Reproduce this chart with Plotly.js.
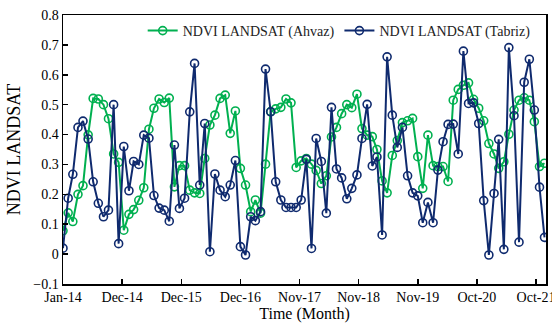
<!DOCTYPE html>
<html>
<head>
<meta charset="utf-8">
<script src="https://cdn.plot.ly/plotly-3.0.1.min.js"></script>
<style>html,body{margin:0;padding:0;background:#fff;}#chart{width:552px;height:327px;}</style>
</head>
<body>
<div id="chart"></div>
<script>
// Monthly observations Jan-2014 .. Dec-2021
const ndviAhvaz = [
  0.078,0.138,0.109,0.200,0.229,0.399,0.521,0.519,0.500,0.453,0.335,0.307,
  0.080,0.133,0.149,0.180,0.222,0.418,0.488,0.519,0.507,0.522,0.225,0.296,
  0.296,0.214,0.205,0.203,0.320,0.432,0.465,0.521,0.532,0.404,0.479,0.287,
  0.231,0.142,0.181,0.137,0.301,0.477,0.486,0.491,0.519,0.506,0.290,0.312,
  0.320,0.301,0.280,0.236,0.262,0.392,0.424,0.470,0.500,0.490,0.535,0.420,
  0.398,0.393,0.350,0.245,0.205,0.330,0.380,0.440,0.446,0.454,0.326,0.220,
  0.398,0.296,0.293,0.293,0.243,0.515,0.551,0.565,0.573,0.518,0.488,0.446,
  0.370,0.335,0.287,0.309,0.401,0.482,0.515,0.523,0.515,0.443,0.293,0.304
];
const ndviTabriz = [
  0.020,0.187,0.267,0.424,0.445,0.385,0.242,0.170,0.125,0.147,0.500,0.035,
  0.360,0.212,0.310,0.300,0.398,0.388,0.196,0.154,0.147,0.110,0.365,0.153,
  0.187,0.476,0.638,0.231,0.437,0.008,0.268,0.214,0.192,0.231,0.313,0.025,
  -0.003,0.125,0.112,0.142,0.619,0.476,0.242,0.181,0.156,0.156,0.156,0.181,
  0.317,0.019,0.387,0.310,0.137,0.491,0.285,0.255,0.185,0.220,0.265,0.387,
  0.501,0.295,0.325,0.064,0.660,0.465,0.357,0.424,0.262,0.205,0.195,0.105,
  0.173,0.105,0.281,0.376,0.434,0.435,0.335,0.679,0.504,0.506,0.437,0.179,
  -0.003,0.203,0.384,0.016,0.691,0.463,0.040,0.575,0.652,0.482,0.224,0.056
];
const tickDates = ['2014-01-01','2014-12-22','2015-12-12','2016-12-01','2017-11-21','2018-11-11','2019-11-01','2020-10-21','2021-10-11'];
const tickLabels = ['Jan-14','Dec-14','Dec-15','Dec-16','Nov-17','Nov-18','Nov-19','Oct-20','Oct-21'];
const seriesNames = ['NDVI LANDSAT (Ahvaz)','NDVI LANDSAT (Tabriz)'];

const months = [];
for (let k = 0; k < ndviAhvaz.length; k++) {
  const y = 2014 + Math.floor(k / 12), m = (k % 12) + 1;
  months.push(y + '-' + String(m).padStart(2, '0') + '-01');
}

const serif = '"Liberation Serif", "Times New Roman", Times, serif';
const mk = (c) => ({symbol: 'circle-open', size: 8, color: c, line: {width: 1.6, color: c}});
const traces = [
  {x: months, y: ndviAhvaz, name: seriesNames[0], type: 'scatter', mode: 'lines+markers',
   line: {color: '#00b050', width: 2}, marker: mk('#00b050')},
  {x: months, y: ndviTabriz, name: seriesNames[1], type: 'scatter', mode: 'lines+markers',
   line: {color: '#0f2a6e', width: 2}, marker: mk('#0f2a6e')}
];
const layout = {
  width: 552, height: 327,
  margin: {l: 63, r: 6, t: 15, b: 43},
  paper_bgcolor: '#fff', plot_bgcolor: '#fff',
  font: {family: serif, color: '#000', size: 13},
  showlegend: true,
  legend: {orientation: 'h', x: 0.165, y: 1.0, xanchor: 'left', yanchor: 'top',
           bgcolor: 'rgba(0,0,0,0)', font: {family: serif, size: 14, color: '#222'},
           itemwidth: 30, tracegroupgap: 0},
  xaxis: {type: 'date', range: ['2014-01-01', '2021-12-10'],
          tickvals: tickDates, ticktext: tickLabels, ticklabeloverflow: 'allow',
          ticks: 'inside', ticklen: 5, tickwidth: 1.5, tickcolor: '#000',
          showline: true, linecolor: '#000', linewidth: 1.5, mirror: true,
          showgrid: false, zeroline: false,
          tickfont: {family: serif, size: 14, color: '#000'},
          title: {text: 'Time (Month)', font: {family: serif, size: 16, color: '#000'}, standoff: 2}},
  yaxis: {range: [-0.1, 0.8], dtick: 0.1, tick0: 0,
          tickformat: '.1~f',
          ticks: 'inside', ticklen: 5, tickwidth: 1.5, tickcolor: '#000',
          showline: true, linecolor: '#000', linewidth: 1.5, mirror: true,
          showgrid: false, zeroline: false,
          tickfont: {family: serif, size: 14, color: '#000'},
          title: {text: 'NDVI LANDSAT', font: {family: serif, size: 18, color: '#000'}, standoff: 8}}
};
Plotly.newPlot('chart', traces, layout, {staticPlot: true, displayModeBar: false});
</script>
</body>
</html>
